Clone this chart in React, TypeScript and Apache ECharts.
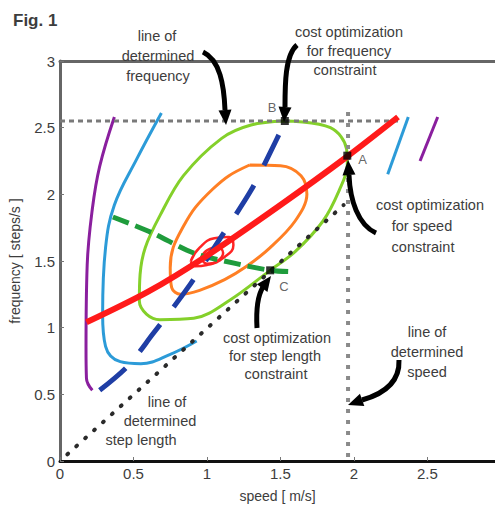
import React, { useEffect, useRef } from "react";
import * as echarts from "echarts";

type P = [number, number];

// ---- data (speed m/s, frequency steps/s) ----
const purpleLeft: P[] = [[0.37, 2.58], [0.27, 2.21], [0.22, 1.89], [0.185, 1.47], [0.177, 0.85], [0.18, 0.62], [0.22, 0.53]];
const purpleRight: P[] = [[2.57, 2.58], [2.45, 2.25]];
const blueLeft: P[] = [[0.69, 2.61], [0.52, 2.26], [0.37, 1.92], [0.31, 1.6], [0.29, 1.1], [0.31, 0.86], [0.41, 0.745], [0.55, 0.73], [0.75, 0.8], [0.93, 0.9]];
const blueRight: P[] = [[2.37, 2.58], [2.23, 2.15]];
const greenContour: P[] = [
  [1.53, 2.55], [1.84, 2.5], [1.95, 2.34], [1.955, 2.22], [1.9, 2.03], [1.79, 1.8], [1.6, 1.57],
  [1.43, 1.43], [1.16, 1.21], [0.91, 1.07], [0.68, 1.06], [0.59, 1.1], [0.54, 1.2], [0.545, 1.4],
  [0.58, 1.6], [0.68, 1.84], [0.84, 2.14], [1.1, 2.42], [1.3, 2.52], [1.53, 2.55],
];
const orangeContour: P[] = [
  [1.29, 2.22], [1.5, 2.215], [1.64, 2.14], [1.68, 2.0], [1.6, 1.8], [1.43, 1.6], [1.27, 1.46],
  [1.12, 1.36], [0.95, 1.28], [0.82, 1.25], [0.76, 1.3], [0.75, 1.45], [0.77, 1.6], [0.84, 1.76],
  [0.92, 1.9], [1.04, 2.04], [1.15, 2.14], [1.29, 2.22],
];
const redRingOuter: P[] = [[0.89, 1.5], [0.95, 1.6], [1.05, 1.67], [1.15, 1.68], [1.18, 1.62], [1.12, 1.53], [1.0, 1.47], [0.92, 1.46], [0.89, 1.5]];
const redRingInner: P[] = [[0.96, 1.52], [1.0, 1.58], [1.07, 1.6], [1.11, 1.56], [1.07, 1.5], [1.0, 1.48], [0.96, 1.52]];
const optimalPath: P[] = [[0.18, 1.04], [0.6, 1.27], [1.0, 1.54], [1.5, 1.92], [1.95, 2.28], [2.3, 2.58]];
const stepOptimum: P[] = [[0.27, 0.53], [0.46, 0.71], [0.63, 0.95], [0.87, 1.3], [1.09, 1.67], [1.3, 2.03], [1.42, 2.29], [1.53, 2.54]];
const freqOptimum: P[] = [[0.36, 1.83], [0.63, 1.71], [0.91, 1.56], [1.2, 1.48], [1.43, 1.43], [1.57, 1.42]];
const freqLimit: P[] = [[0, 2.55], [2.32, 2.55]];
const speedLimit: P[] = [[1.96, 0.03], [1.96, 2.62]];
const stepLimit: P[] = [[0.05, 0.05], [1.93, 1.92]];
const optimaPoints: { name: string; value: P }[] = [
  { name: "A", value: [1.955, 2.29] },
  { name: "B", value: [1.53, 2.55] },
  { name: "C", value: [1.43, 1.43] },
];

const TXT = "#3d3d3d";
const FONT = "'Liberation Sans', Arial, sans-serif";

function curve(data: P[], color: string, width: number, smooth: number | boolean = 0.4, extra: any = {}) {
  return {
    type: "line",
    data,
    smooth,
    symbol: "none",
    silent: true,
    lineStyle: { color, width, ...extra },
    z: 2,
  };
}

function head(tx: number, ty: number, fx: number, fy: number, len = 15, half = 6.5) {
  const dx = tx - fx, dy = ty - fy;
  const l = Math.hypot(dx, dy) || 1;
  const ux = dx / l, uy = dy / l;
  const bx = tx - ux * len, by = ty - uy * len;
  return {
    type: "polygon",
    shape: { points: [[tx, ty], [bx - uy * half, by + ux * half], [bx + uy * half, by - ux * half]] },
    style: { fill: "#000" },
    z: 100,
  };
}

function arrow(x1: number, y1: number, c1x: number, c1y: number, c2x: number, c2y: number, x2: number, y2: number, tx: number, ty: number) {
  return [
    {
      type: "bezierCurve",
      shape: { x1, y1, cpx1: c1x, cpy1: c1y, cpx2: c2x, cpy2: c2y, x2, y2 },
      style: { stroke: "#000", lineWidth: 5, fill: "none" },
      z: 100,
    },
    head(tx, ty, x2, y2),
  ];
}

function txt(text: string, x: number, y: number, size = 14.5, weight: any = "normal", align = "center") {
  return {
    type: "text",
    x,
    y,
    z: 101,
    style: { text, fill: TXT, fontSize: size, fontFamily: FONT, fontWeight: weight, align, verticalAlign: "middle" },
  };
}

export default function App() {
  const ref = useRef<HTMLDivElement>(null);
  useEffect(() => {
    document.body.style.margin = "0";
    const chart = echarts.init(ref.current!, null, { renderer: "svg" });
    const option: any = {
      animation: false,
      backgroundColor: "#fff",
      grid: { left: 60, right: 0, top: 61, bottom: 43 },
      xAxis: [
        {
          type: "value",
          min: 0,
          max: 2.96,
          interval: 0.5,
          name: "speed [ m/s]",
          nameLocation: "middle",
          nameGap: 28,
          nameTextStyle: { color: TXT, fontSize: 14, fontFamily: FONT },
          axisLine: { show: true, lineStyle: { color: "#111", width: 3 } },
          axisTick: { show: true, inside: true, length: 4, lineStyle: { color: "#777" } },
          axisLabel: { color: TXT, fontSize: 15, fontFamily: FONT, margin: 5, showMaxLabel: false },
          splitLine: { show: false },
        },
        {
          type: "value",
          position: "top",
          min: 0,
          max: 2.96,
          interval: 0.5,
          axisLine: { show: true, lineStyle: { color: "#666", width: 3 } },
          axisTick: { show: false },
          axisLabel: { show: false },
          splitLine: { show: false },
        },
      ],
      yAxis: {
        type: "value",
        min: 0,
        max: 3,
        interval: 0.5,
        name: "frequency [ steps/s ]",
        nameLocation: "middle",
        nameGap: 38,
        nameRotate: 90,
        nameTextStyle: { color: TXT, fontSize: 14, fontFamily: FONT },
        axisLine: { show: true, lineStyle: { color: "#666", width: 3 } },
        axisTick: { show: true, inside: true, length: 4, lineStyle: { color: "#777" } },
        axisLabel: { color: TXT, fontSize: 15, fontFamily: FONT, margin: 5 },
        splitLine: { show: false },
      },
      series: [
        curve(purpleLeft, "#8a1f9e", 3),
        curve(purpleRight, "#8a1f9e", 3, false),
        curve(blueLeft, "#2c9bd8", 3),
        curve(blueRight, "#2c9bd8", 3, false),
        curve(greenContour, "#84d02a", 3, 0.35),
        curve(orangeContour, "#ff7f24", 3, 0.35),
        curve(redRingOuter, "#ff2424", 2.5, 0.5),
        curve(redRingInner, "#ff2424", 2.5, 0.5),
        curve(freqLimit, "#7a7a7a", 3, false, { type: [5, 4] }),
        curve(speedLimit, "#8a8a8a", 4, false, { type: [4, 7] }),
        curve(stepLimit, "#2a2a2a", 4, false, { type: [1, 11], cap: "round" }),
        curve(freqOptimum, "#1f9c3c", 5, 0.3, { type: [17, 7] }),
        curve(stepOptimum, "#1f3ea5", 5, 0.3, { type: [34, 22] }),
        curve(optimalPath, "#ff1a1a", 6, 0.3),
        {
          type: "scatter",
          data: optimaPoints,
          symbol: "rect",
          symbolSize: 8,
          itemStyle: { color: "#000" },
          z: 5,
          label: {
            show: true,
            formatter: (p: any) => p.name,
            color: TXT,
            fontSize: 13,
            fontFamily: FONT,
            position: "right",
          },
          labelLayout: (p: any) => {
            const n = optimaPoints[p.dataIndex].name;
            if (n === "A") return { dx: 2, dy: 4 };
            if (n === "B") return { dx: -26, dy: -14 };
            return { dx: 0, dy: 16 };
          },
        },
      ],
      graphic: [
        txt("Fig. 1", 13, 20, 17, "bold", "left"),
        txt("line of", 157, 36),
        txt("determined", 158, 56),
        txt("frequency", 158, 76),
        txt("cost optimization", 349, 32),
        txt("for frequency", 349, 51),
        txt("constraint", 345, 70),
        txt("cost optimization", 430, 205),
        txt("for speed", 422, 226),
        txt("constraint", 423, 247),
        txt("cost optimization", 277, 338),
        txt("for step length", 275, 356),
        txt("constraint", 276, 374),
        txt("line of", 427, 332),
        txt("determined", 427, 352),
        txt("speed", 427, 372),
        txt("line of", 167, 402),
        txt("determined", 160, 421),
        txt("step length", 141, 440),
        ...arrow(203, 52, 220, 60, 224, 85, 225, 110, 226, 125),
        ...arrow(297, 45, 285, 55, 285, 85, 285, 107, 284, 122),
        ...arrow(376, 233, 358, 225, 350, 200, 349, 175, 348, 160),
        ...arrow(257, 328, 256, 310, 258, 295, 263, 287, 271, 276),
        ...arrow(399, 360, 400, 385, 380, 395, 362, 400, 348, 405),
      ],
    };
    chart.setOption(option);
    return () => chart.dispose();
  }, []);
  return <div ref={ref} style={{ position: "fixed", left: 0, top: 0, width: 495, height: 508 }} />;
}
